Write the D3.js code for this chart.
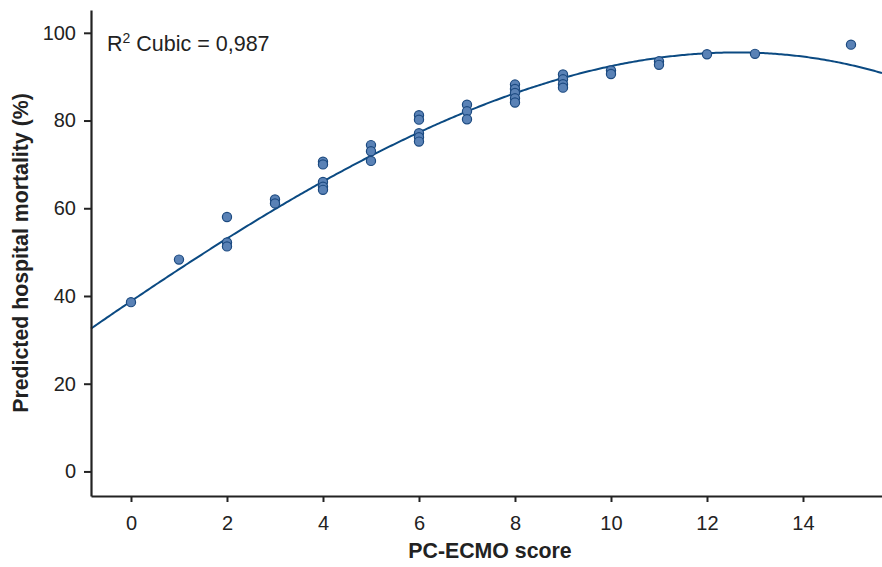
<!DOCTYPE html>
<html>
<head>
<meta charset="utf-8">
<script src="https://cdn.jsdelivr.net/npm/d3@7"></script>
<style>
  html, body { margin: 0; padding: 0; background: #fff; }
  svg { display: block; font-family: "Liberation Sans", Arial, sans-serif; }
</style>
</head>
<body>
<svg id="chart" width="882" height="567"></svg>
<script>
// PC-ECMO score (x) vs predicted hospital mortality (%) (y)
const scores = [
  0,
  1,
  2, 2, 2,
  3, 3,
  4, 4, 4, 4, 4,
  5, 5, 5,
  6, 6, 6, 6, 6,
  7, 7, 7,
  8, 8, 8, 8, 8,
  9, 9, 9, 9,
  10, 10,
  11, 11,
  12,
  13,
  15
];
const mortality = [
  38.6,
  48.3,
  58.0, 52.2, 51.3,
  62.0, 61.1,
  70.6, 70.0, 66.0, 64.9, 64.2,
  74.4, 73.0, 70.8,
  81.2, 80.2, 77.1, 76.2, 75.2,
  83.6, 82.1, 80.3,
  88.2, 87.2, 86.3, 85.1, 84.1,
  90.5, 89.4, 88.3, 87.5,
  91.4, 90.6,
  93.5, 92.7,
  95.1,
  95.2,
  97.3
];
// Cubic fit: y = c0 + c1·x + c2·x² + c3·x³
const cubicCoefficients = [38.8, 7.40, -0.104, -0.0100];
const rSquaredLabel = "0,987";
const xTicks = [0, 2, 4, 6, 8, 10, 12, 14];
const yTicks = [0, 20, 40, 60, 80, 100];

const svg = d3.select("#chart");
const plotLeft = 91, plotRight = 882, plotTop = 10, plotBottom = 496;

const x = d3.scaleLinear().domain([-0.833, 15.646]).range([plotLeft, plotRight]);
const y = d3.scaleLinear().domain([-5.6, 105.2]).range([plotBottom, plotTop]);

const fit = v => cubicCoefficients.reduce((s, c, i) => s + c * Math.pow(v, i), 0);

// Fitted curve
const [x0, x1] = x.domain();
const curvePts = d3.range(0, 401).map(i => {
  const xv = x0 + (x1 - x0) * i / 400;
  return [xv, fit(xv)];
});
svg.append("path")
  .datum(curvePts)
  .attr("fill", "none")
  .attr("stroke", "#0b4a82")
  .attr("stroke-width", 2)
  .attr("d", d3.line().x(d => x(d[0])).y(d => y(d[1])));

// Observed points
svg.append("g").selectAll("circle")
  .data(scores.map((s, i) => [s, mortality[i]]))
  .join("circle")
  .attr("cx", d => x(d[0]))
  .attr("cy", d => y(d[1]))
  .attr("r", 4.6)
  .attr("fill", "#5a82b6")
  .attr("stroke", "#1c4a80")
  .attr("stroke-width", 1.2);

// Axes
const xAxis = svg.append("g")
  .attr("transform", `translate(0,${plotBottom})`)
  .call(d3.axisBottom(x).tickValues(xTicks).tickSize(6).tickPadding(14).tickSizeOuter(0));
const yAxis = svg.append("g")
  .attr("transform", `translate(${plotLeft},0)`)
  .call(d3.axisLeft(y).tickValues(yTicks).tickSize(7).tickPadding(8).tickSizeOuter(0));

[xAxis, yAxis].forEach(g => {
  g.select(".domain").attr("stroke", "#222").attr("stroke-width", 2.2);
  g.selectAll(".tick line").attr("stroke", "#222").attr("stroke-width", 2);
  g.selectAll(".tick text").attr("fill", "#222").style("font-size", "20px")
    .style("font-family", "'Liberation Sans', Arial, sans-serif");
});

// Axis titles
svg.append("text")
  .attr("x", 490).attr("y", 558)
  .attr("text-anchor", "middle")
  .attr("fill", "#222")
  .style("font-size", "21.3px").style("font-weight", "bold")
  .text("PC-ECMO score");

svg.append("text")
  .attr("transform", "translate(28,253) rotate(-90)")
  .attr("text-anchor", "middle")
  .attr("fill", "#222")
  .style("font-size", "21.3px").style("font-weight", "bold")
  .text("Predicted hospital mortality (%)");

// R² annotation
const ann = svg.append("text")
  .attr("x", 107).attr("y", 51)
  .attr("fill", "#222")
  .style("font-size", "21.5px");
ann.append("tspan").text("R");
ann.append("tspan").attr("dy", -8).style("font-size", "14px").text("2");
ann.append("tspan").attr("dy", 8).text(" Cubic = " + rSquaredLabel);
</script>
</body>
</html>
